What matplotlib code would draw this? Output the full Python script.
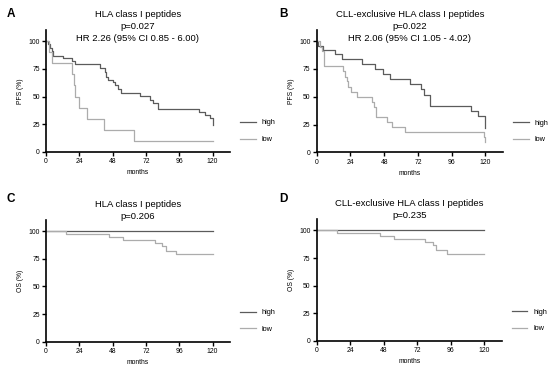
import matplotlib.pyplot as plt
import numpy as np

plt.rcParams['font.family'] = ['Liberation Sans', 'DejaVu Sans']

# Kaplan-Meier step data (months, percent)
a_high_t = [0, 1.5, 3, 4, 5, 12.4, 18.9, 20.9, 38.7, 42.3, 43.5, 44.7, 48, 50, 52, 54, 67.6, 74.8, 77.2, 80.8, 110, 114.8, 118, 120]
a_high_s = [100, 97, 94, 91, 87, 84.4, 82, 79, 75.5, 72, 68, 65, 63, 60, 57, 53, 50.6, 47, 44, 39, 36, 33.5, 31, 24]
a_low_t = [0, 2, 4, 19, 20, 21, 21.5, 23.7, 29.7, 41.8, 63.5, 120]
a_low_s = [100, 90, 80, 70, 60, 50, 50, 40, 30, 20, 10, 10]

b_high_t = [0, 1.2, 4.8, 13, 17.8, 32.5, 41.6, 47.5, 52.3, 66.5, 74.3, 76.6, 80.7, 110, 114.4, 120]
b_high_s = [100, 96, 92, 88, 83.5, 79, 75, 70.5, 65.7, 61.2, 56.7, 51.6, 42, 37.4, 33, 22]
b_low_t = [0, 2, 3.6, 5.5, 19, 20.2, 21.4, 22.6, 24.5, 28.5, 39.2, 41.1, 42, 49.9, 53.4, 63, 118.8, 120]
b_low_s = [100, 95, 91, 77.5, 73, 68, 64, 59, 54.5, 50, 45.5, 41, 32, 27, 22.5, 18.3, 14, 9]

c_high_t = [0, 120]
c_high_s = [100, 100]
c_low_t = [0, 14.4, 45.2, 55.5, 78.2, 83.7, 86.1, 93.3, 120]
c_low_s = [100, 97.3, 94.6, 91.9, 89.2, 86.5, 81.9, 78.9, 78.9]

d_high_t = [0, 120]
d_high_s = [100, 100]
d_low_t = [0, 14.8, 45.2, 55.2, 77.8, 83.6, 85.7, 93.3, 120]
d_low_s = [100, 97.3, 94.6, 91.9, 89.2, 86.5, 81.9, 78.4, 78.4]

panels = [
    ('A', ['HLA class I peptides', 'p=0.027', 'HR 2.26 (95% CI 0.85 - 6.00)'], 'PFS (%)', a_high_t, a_high_s, a_low_t, a_low_s),
    ('B', ['CLL-exclusive HLA class I peptides', 'p=0.022', 'HR 2.06 (95% CI 1.05 - 4.02)'], 'PFS (%)', b_high_t, b_high_s, b_low_t, b_low_s),
    ('C', ['HLA class I peptides', 'p=0.206'], 'OS (%)', c_high_t, c_high_s, c_low_t, c_low_s),
    ('D', ['CLL-exclusive HLA class I peptides', 'p=0.235'], 'OS (%)', d_high_t, d_high_s, d_low_t, d_low_s),
]
# axes boxes in figure fractions
boxes = [
    [0.0836, 0.5947, 0.3345, 0.3253],
    [0.5758, 0.5939, 0.3387, 0.3260],
    [0.0836, 0.0888, 0.3345, 0.3245],
    [0.5758, 0.0907, 0.3364, 0.3245],
]
letter_pos = [(0.012, 0.962), (0.508, 0.962), (0.012, 0.468), (0.508, 0.468)]

dark = '#5b5b5b'
light = '#acacac'

fig = plt.figure(figsize=(5.5, 3.75), dpi=100, facecolor='white')

for (letter, title, ylab, ht, hs, lt, ls), box, lp in zip(panels, boxes, letter_pos):
    ax = fig.add_axes(box)
    ax.step(ht, hs, where='post', color=dark, lw=0.9, label='high')
    ax.step(lt, ls, where='post', color=light, lw=0.9, label='low')
    ax.set_xlim(0, 132.5)
    ax.set_ylim(0, 110)
    ax.set_xticks([0, 24, 48, 72, 96, 120])
    ax.set_yticks([0, 25, 50, 75, 100])
    for s in ['top', 'right']:
        ax.spines[s].set_visible(False)
    for s in ['left', 'bottom']:
        ax.spines[s].set_linewidth(1.2)
    ax.tick_params(width=1.0, length=3, labelsize=4.9, pad=1.5)
    ax.set_xlabel('months', fontsize=4.9, labelpad=3)
    ax.set_ylabel(ylab, fontsize=4.9, labelpad=3)
    for i, line in enumerate(title):
        ax.text(0.5, 1.131 - i * 0.1, line, transform=ax.transAxes,
                ha='center', va='center', fontsize=6.8)
    ax.legend(loc='center left', bbox_to_anchor=(1.02, 0.17), frameon=False,
              fontsize=5.3, handlelength=2.1, handletextpad=0.8, labelspacing=1.3)
    fig.text(lp[0], lp[1], letter, fontsize=8.5, fontweight='bold', va='center')

plt.savefig('out.png', dpi=100)
